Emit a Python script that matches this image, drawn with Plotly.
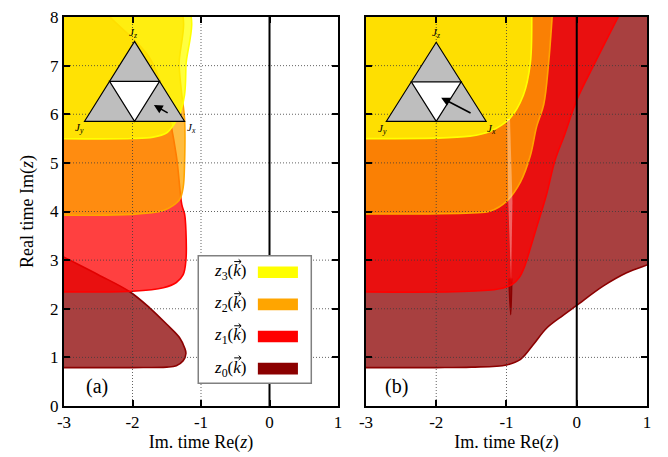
import plotly.graph_objects as go

FONT = "Liberation Serif"

# ---- axes ----
x_ticks = [-3, -2, -1, 0, 1]
x_tick_text = ["-3", "-2", "-1", "0", "1"]
y_ticks = [0, 1, 2, 3, 4, 5, 6, 7, 8]
y_tick_text = ["0", "1", "2", "3", "4", "5", "6", "7", "8"]
grid_x = [-2, -1]
grid_y = [1, 2, 3, 4, 5, 6, 7]

# ---- regions of z_n(k) in the complex plane, panel (a) ----
z0_a_x = [-3.2, -3.0, -2.5, -2.04, -1.75, -1.5, -1.31, -1.24, -1.22, -1.26, -1.36, -1.5, -2.0, -3.2]
z0_a_y = [3.21, 3.06, 2.70, 2.35, 2.02, 1.68, 1.40, 1.20, 1.08, 0.93, 0.83, 0.80, 0.79, 0.79]

z1_a_x = [-3.2, -2.0, -1.55, -1.36, -1.26, -1.22, -1.22, -1.24, -1.28, -1.36, -1.50, -1.75, -2.33, -2.45, -3.2]
z1_a_y = [2.35, 2.36, 2.43, 2.54, 2.70, 3.0, 3.6, 3.95, 4.14, 5.15, 6.16, 7.16, 8.0, 8.2, 8.2]

z2_a_x = [-3.2, -2.0, -1.55, -1.41, -1.31, -1.26, -1.24, -1.24, -1.28, -1.32, -1.33, -3.2]
z2_a_y = [3.93, 3.94, 4.02, 4.12, 4.25, 4.5, 5.0, 5.9, 6.4, 7.0, 8.2, 8.2]

z3_a_x = [-3.2, -2.0, -1.7, -1.5, -1.4, -1.3, -1.24, -1.22, -1.21, -3.2]
z3_a_y = [5.5, 5.5, 5.53, 5.62, 5.78, 6.05, 6.4, 7.0, 8.2, 8.2]

# ---- panel (b) ----
z0_b_x = [-3.2, -2.0, -1.5, -1.0, -0.8, -0.62, -0.43, -0.19, 0.0, 0.38, 0.71, 1.0, 1.2, 1.2, -3.2]
z0_b_y = [0.79, 0.79, 0.80, 0.845, 0.96, 1.26, 1.60, 1.87, 2.07, 2.47, 2.74, 2.9, 3.0, 8.2, 8.2]
z0_b_tip_x = [-0.965, -0.94, -0.925]
z0_b_tip_y = [2.62, 1.88, 2.62]

z1_b_x = [-3.2, -1.75, -1.14, -0.92, -0.82, -0.74, -0.66, -0.57, -0.43, -0.31, -0.17, 0.0, 0.26, 0.59, 0.66, -3.2]
z1_b_y = [2.35, 2.35, 2.40, 2.50, 2.64, 2.88, 3.25, 3.68, 4.35, 5.05, 5.59, 6.29, 7.06, 8.0, 8.2, 8.2]

z2_b_x = [-3.2, -1.5, -1.23, -1.0, -0.8, -0.66, -0.57, -0.47, -0.40, -0.35, -0.34, -3.2]
z2_b_y = [3.95, 3.97, 4.01, 4.21, 4.61, 5.15, 5.75, 6.2, 7.06, 8.0, 8.2, 8.2]

z3_b_x = [-3.2, -1.52, -1.23, -0.95, -0.76, -0.66, -0.64, -0.64, -3.2]
z3_b_y = [5.5, 5.55, 5.65, 5.92, 6.39, 7.06, 8.0, 8.2, 8.2]

streak_b_x = [-0.99, -0.95, -0.915, -0.935, -0.975]
streak_b_y = [5.9, 5.9, 4.2, 2.55, 4.2]

# colours of the four branches
solid = {"z0": "#8b0000", "z1": "#ff0000", "z2": "#ffa500", "z3": "#ffff00"}
fills = {"z0": "rgba(139,0,0,0.75)", "z1": "rgba(255,0,0,0.75)",
         "z2": "rgba(255,165,0,0.75)", "z3": "rgba(255,255,0,0.75)"}

fig = go.Figure()


def region(xs, ys, key, xa, ya):
    fig.add_trace(go.Scatter(
        x=xs, y=ys, mode="lines", fill="toself", fillcolor=fills[key],
        line=dict(color=solid[key], width=1.6, shape="spline", smoothing=1.0),
        xaxis=xa, yaxis=ya, hoverinfo="skip", showlegend=False))


region(z0_a_x, z0_a_y, "z0", "x", "y")
region(z1_a_x, z1_a_y, "z1", "x", "y")
region(z2_a_x, z2_a_y, "z2", "x", "y")
region(z3_a_x, z3_a_y, "z3", "x", "y")

region(z0_b_x, z0_b_y, "z0", "x2", "y2")
region(z0_b_tip_x, z0_b_tip_y, "z0", "x2", "y2")
region(z1_b_x, z1_b_y, "z1", "x2", "y2")
region(z2_b_x, z2_b_y, "z2", "x2", "y2")
region(z3_b_x, z3_b_y, "z3", "x2", "y2")
fig.add_trace(go.Scatter(
    x=streak_b_x, y=streak_b_y, mode="lines", fill="toself",
    fillcolor="rgba(255,255,255,0.35)", line=dict(width=0),
    xaxis="x2", yaxis="y2", hoverinfo="skip", showlegend=False))

# dotted grid and the solid Re(z)=0 line, drawn over the filled regions
for xa, ya in [("x", "y"), ("x2", "y2")]:
    gx_pts, gy_pts = [], []
    for gx in grid_x:
        gx_pts += [gx, gx, None]
        gy_pts += [0, 8, None]
    for gy in grid_y:
        gx_pts += [-3, 1, None]
        gy_pts += [gy, gy, None]
    fig.add_trace(go.Scatter(x=gx_pts, y=gy_pts, mode="lines", xaxis=xa, yaxis=ya,
                             line=dict(color="rgba(60,60,60,0.8)", width=1, dash="1px,2px"),
                             hoverinfo="skip", showlegend=False, connectgaps=False))
    fig.add_trace(go.Scatter(x=[0, 0], y=[0, 8], mode="lines", xaxis=xa, yaxis=ya,
                             line=dict(color="black", width=2),
                             hoverinfo="skip", showlegend=False))

shapes = []
annotations = []

# legend box in panel (a)
shapes.append(dict(type="rect", xref="x", yref="y", x0=-1.04, x1=0.61, y0=0.47, y1=3.09,
                   fillcolor="white", line=dict(color="#808080", width=1.5), layer="above"))
legend_rows = [2.75, 2.09, 1.43, 0.77]
legend_keys = ["z3", "z2", "z1", "z0"]
legend_labels = ["<i>z</i><sub>3</sub>(<i>k</i>)", "<i>z</i><sub>2</sub>(<i>k</i>)",
                 "<i>z</i><sub>1</sub>(<i>k</i>)", "<i>z</i><sub>0</sub>(<i>k</i>)"]
for key, yc, lab in zip(legend_keys, legend_rows, legend_labels):
    shapes.append(dict(type="rect", xref="x", yref="y", x0=-0.17, x1=0.415,
                       y0=yc - 0.12, y1=yc + 0.12, fillcolor=solid[key],
                       line=dict(width=0), layer="above"))
    annotations.append(dict(xref="x", yref="y", x=-0.58, y=yc, text=lab, showarrow=False,
                            font=dict(family=FONT, size=17, color="black")))
    # small vector arrow over k
    ax0, ax1, ay = -0.515, -0.415, yc + 0.22
    shapes.append(dict(type="path", xref="x", yref="y", layer="above",
                       path=(f"M {ax0},{ay} L {ax1},{ay} "
                             f"M {ax1 - 0.035},{ay + 0.045} L {ax1},{ay} "
                             f"L {ax1 - 0.035},{ay - 0.045}"),
                       line=dict(color="black", width=1)))


def triangle(xr, yr, cx, x_half, yb, yt, head, tail, labels):
    xl, xrt = cx - x_half, cx + x_half
    ym = (yb + yt) / 2
    outer = f"M {xl},{yb} L {xrt},{yb} L {cx},{yt} Z"
    inner = f"M {(xl + cx) / 2},{ym} L {(xrt + cx) / 2},{ym} L {cx},{yb} Z"
    shapes.append(dict(type="path", xref=xr, yref=yr, path=outer, fillcolor="#bebebe",
                       line=dict(color="black", width=1.2), layer="above"))
    shapes.append(dict(type="path", xref=xr, yref=yr, path=inner, fillcolor="white",
                       line=dict(color="black", width=1.2), layer="above"))
    annotations.append(dict(xref=xr, yref=yr, axref=xr, ayref=yr, x=head[0], y=head[1],
                            ax=tail[0], ay=tail[1], text="", showarrow=True,
                            arrowhead=2, arrowsize=1.1, arrowwidth=1.6, arrowcolor="black"))
    for (lx, ly), t in zip(labels, ["<i>J<sub>z</sub></i>", "<i>J<sub>y</sub></i>",
                                    "<i>J<sub>x</sub></i>"]):
        annotations.append(dict(xref=xr, yref=yr, x=lx, y=ly, text=t, showarrow=False,
                                font=dict(family=FONT, size=11, color="black")))


triangle("x", "y", -1.97, 0.73, 5.855, 7.5, (-1.688, 6.19), (-1.465, 6.01),
         [(-1.99, 7.67), (-2.77, 5.72), (-1.14, 5.72)])
triangle("x2", "y2", -2.0, 0.71, 5.855, 7.48, (-1.93, 6.34), (-1.49, 6.01),
         [(-2.0, 7.67), (-2.77, 5.70), (-1.21, 5.70)])

annotations.append(dict(xref="x", yref="y", x=-2.52, y=0.40, text="(a)", showarrow=False,
                        font=dict(family=FONT, size=20, color="black")))
annotations.append(dict(xref="x2", yref="y2", x=-2.56, y=0.40, text="(b)", showarrow=False,
                        font=dict(family=FONT, size=20, color="black")))

axis_common = dict(ticks="inside", ticklen=6, tickwidth=2, tickcolor="black",
                   showline=True, linewidth=2, linecolor="black", mirror="ticks",
                   showgrid=False, zeroline=False, layer="above traces",
                   tickfont=dict(family=FONT, size=17, color="black"))

fig.update_layout(
    width=668, height=457,
    margin=dict(l=64, r=21, t=8, b=51),
    paper_bgcolor="white", plot_bgcolor="white",
    font=dict(family=FONT, color="black"),
    xaxis=dict(domain=[0, 0.47], range=[-3, 1], tickvals=x_ticks, ticktext=x_tick_text,
               anchor="y", title=dict(text="Im. time Re(<i>z</i>)",
                                      font=dict(family=FONT, size=18), standoff=2),
               **axis_common),
    yaxis=dict(range=[0, 8], tickvals=y_ticks, ticktext=y_tick_text, anchor="x",
               title=dict(text="Real time Im(<i>z</i>)", font=dict(family=FONT, size=18),
                          standoff=12),
               **axis_common),
    xaxis2=dict(domain=[0.518, 1], range=[-3, 1], tickvals=x_ticks, ticktext=x_tick_text,
                anchor="y2", title=dict(text="Im. time Re(<i>z</i>)",
                                        font=dict(family=FONT, size=18), standoff=2),
                **axis_common),
    yaxis2=dict(range=[0, 8], tickvals=y_ticks, showticklabels=False, anchor="x2",
                **axis_common),
    shapes=shapes,
    annotations=annotations,
    showlegend=False,
)

fig.write_html("out.html")
